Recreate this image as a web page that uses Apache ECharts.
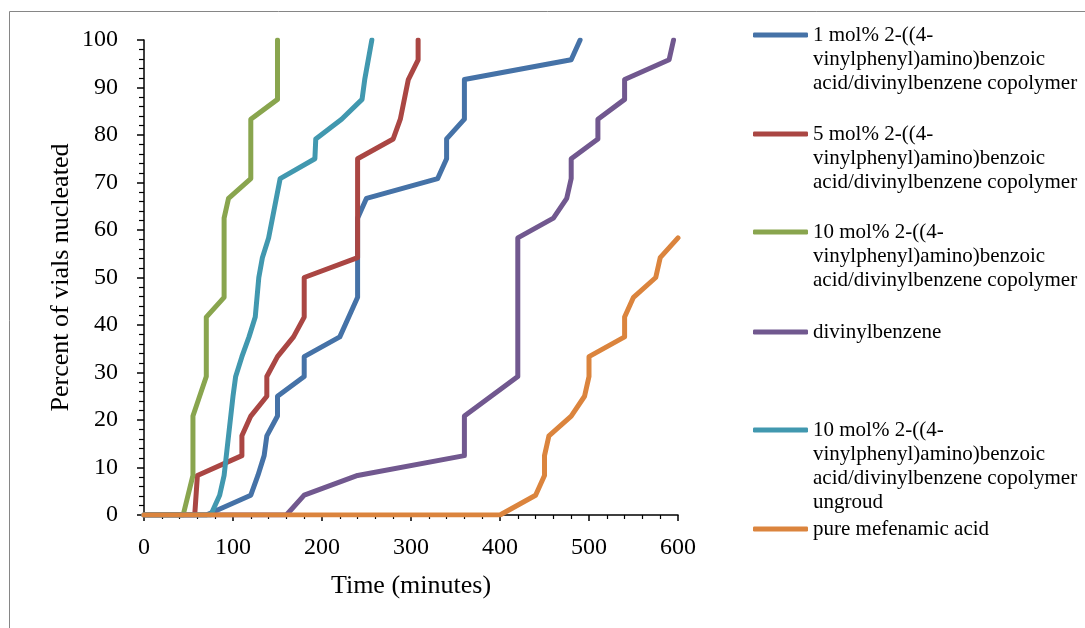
<!DOCTYPE html>
<html>
<head>
<meta charset="utf-8">
<script src="https://cdn.jsdelivr.net/npm/echarts@6/dist/echarts.min.js"></script>
<style>
html,body{margin:0;padding:0;background:#fff;}
#chart{width:1085px;height:628px;}
</style>
</head>
<body>
<div id="chart"></div>
<script>
// ---- data ----
const xTicks = [0, 100, 200, 300, 400, 500, 600];
const yTicks = [0, 10, 20, 30, 40, 50, 60, 70, 80, 90, 100];

const seriesNames = [
  "1 mol% 2-((4-\nvinylphenyl)amino)benzoic\nacid/divinylbenzene copolymer",
  "5 mol% 2-((4-\nvinylphenyl)amino)benzoic\nacid/divinylbenzene copolymer",
  "10 mol% 2-((4-\nvinylphenyl)amino)benzoic\nacid/divinylbenzene copolymer",
  "divinylbenzene",
  "10 mol% 2-((4-\nvinylphenyl)amino)benzoic\nacid/divinylbenzene copolymer\nungroud",
  "pure mefenamic acid"
];

const blueTime    = [0, 70, 120, 128, 135, 138, 150, 150, 180, 180, 220, 240, 240, 240, 240, 250, 330, 340, 340, 360, 360, 480, 490];
const bluePercent = [0, 0, 4.17, 8.33, 12.5, 16.67, 20.83, 25, 29.17, 33.33, 37.5, 45.83, 54.17, 58.33, 62.5, 66.67, 70.83, 75, 79.17, 83.33, 91.67, 95.83, 100];

const redTime    = [0, 57, 60, 110, 110, 120, 138, 138, 150, 168, 180, 180, 240, 240, 280, 288, 297, 308, 308];
const redPercent = [0, 0, 8.33, 12.5, 16.67, 20.83, 25, 29.17, 33.33, 37.5, 41.67, 50, 54.17, 75, 79.17, 83.33, 91.67, 95.83, 100];

const greenTime    = [0, 44, 55, 55, 70, 70, 90, 90, 95, 120, 120, 150, 150];
const greenPercent = [0, 0, 8.33, 20.83, 29.17, 41.67, 45.83, 62.5, 66.67, 70.83, 83.33, 87.5, 100];

const purpleTime    = [0, 160, 180, 240, 360, 360, 420, 420, 460, 475, 480, 480, 510, 510, 540, 540, 590, 595];
const purplePercent = [0, 0, 4.17, 8.33, 12.5, 20.83, 29.17, 58.33, 62.5, 66.67, 70.83, 75, 79.17, 83.33, 87.5, 91.67, 95.83, 100];

const tealTime    = [0, 75, 85, 90, 95, 100, 103, 110, 118, 125, 129, 133, 140, 153, 192, 193, 222, 245, 248, 256];
const tealPercent = [0, 0, 4.17, 8.33, 16.67, 25, 29.17, 33.33, 37.5, 41.67, 50, 54.17, 58.33, 70.83, 75, 79.17, 83.33, 87.5, 91.67, 100];

const orangeTime    = [0, 400, 440, 450, 450, 455, 480, 495, 500, 500, 540, 540, 550, 575, 580, 600];
const orangePercent = [0, 0, 4.17, 8.33, 12.5, 16.67, 20.83, 25, 29.17, 33.33, 37.5, 41.67, 45.83, 50, 54.17, 58.33];

const colors = ["#4572A7", "#AA4643", "#89A54E", "#71588F", "#4198AF", "#DB843D"];

// ---- build ----
const allTimes = [blueTime, redTime, greenTime, purpleTime, tealTime, orangeTime];
const allPercents = [bluePercent, redPercent, greenPercent, purplePercent, tealPercent, orangePercent];
const zip = (a, b) => a.map((v, i) => [v, b[i]]);

const serif = "'Liberation Serif', 'Times New Roman', serif";
const legendFont = 21, legendLH = 24;
const iconCenters = [35, 134, 232, 332, 430, 529];

const legends = seriesNames.map((n, i) => {
  const lines = n.split("\n").length;
  return {
    show: true,
    data: [{ name: n, icon: 'roundRect' }],
    left: 753,
    top: iconCenters[i] - (lines - 0.5) * legendLH,
    orient: 'vertical',
    itemWidth: 55,
    itemHeight: 5,
    padding: 0,
    selectedMode: false,
    formatter: (name) => ' \n'.repeat(lines - 1) + name,
    textStyle: {
      fontFamily: serif, fontSize: legendFont, lineHeight: legendLH, color: '#000'
    }
  };
});

const series = seriesNames.map((n, i) => ({
  name: n,
  type: 'line',
  data: zip(allTimes[i], allPercents[i]),
  showSymbol: false,
  symbol: 'none',
  lineStyle: { width: 5, color: colors[i], cap: 'round', join: 'round' },
  itemStyle: { color: colors[i] },
  animation: false,
  z: 2 + i
}));

const chart = echarts.init(document.getElementById('chart'), null, { renderer: 'canvas' });
chart.setOption({
  backgroundColor: '#fff',
  animation: false,
  color: colors,
  grid: { left: 144, right: 407, top: 40, bottom: 113, containLabel: false },
  legend: legends,
  xAxis: {
    type: 'value', min: xTicks[0], max: xTicks[xTicks.length - 1], interval: 100,
    name: 'Time (minutes)', nameLocation: 'middle', nameGap: 58,
    nameTextStyle: { fontFamily: serif, fontSize: 26, color: '#000' },
    axisLine: { show: true, lineStyle: { color: '#000', width: 1.5 } },
    axisTick: { show: true, inside: false, length: 6, lineStyle: { color: '#000', width: 1.5 } },
    minorTick: { show: true, splitNumber: 5, length: 4, lineStyle: { color: '#000', width: 1.2 } },
    splitLine: { show: false },
    axisLabel: { fontFamily: serif, fontSize: 24, color: '#000', margin: 21 }
  },
  yAxis: {
    type: 'value', min: yTicks[0], max: yTicks[yTicks.length - 1], interval: 10,
    name: 'Percent of vials nucleated', nameLocation: 'middle', nameGap: 70, nameRotate: 90,
    nameTextStyle: { fontFamily: serif, fontSize: 26, color: '#000' },
    axisLine: { show: true, lineStyle: { color: '#000', width: 1.5 } },
    axisTick: { show: true, inside: false, length: 7, lineStyle: { color: '#000', width: 1.5 } },
    minorTick: { show: true, splitNumber: 5, length: 5, lineStyle: { color: '#000', width: 1.2 } },
    splitLine: { show: false },
    axisLabel: { fontFamily: serif, fontSize: 24, color: '#000', margin: 26 }
  },
  graphic: [{
    type: 'rect', silent: true, z: -1,
    shape: { x: 9.5, y: 11.5, width: 1200, height: 800 },
    style: { fill: 'none', stroke: '#868686', lineWidth: 1 }
  }],
  series: series
});
</script>
</body>
</html>
